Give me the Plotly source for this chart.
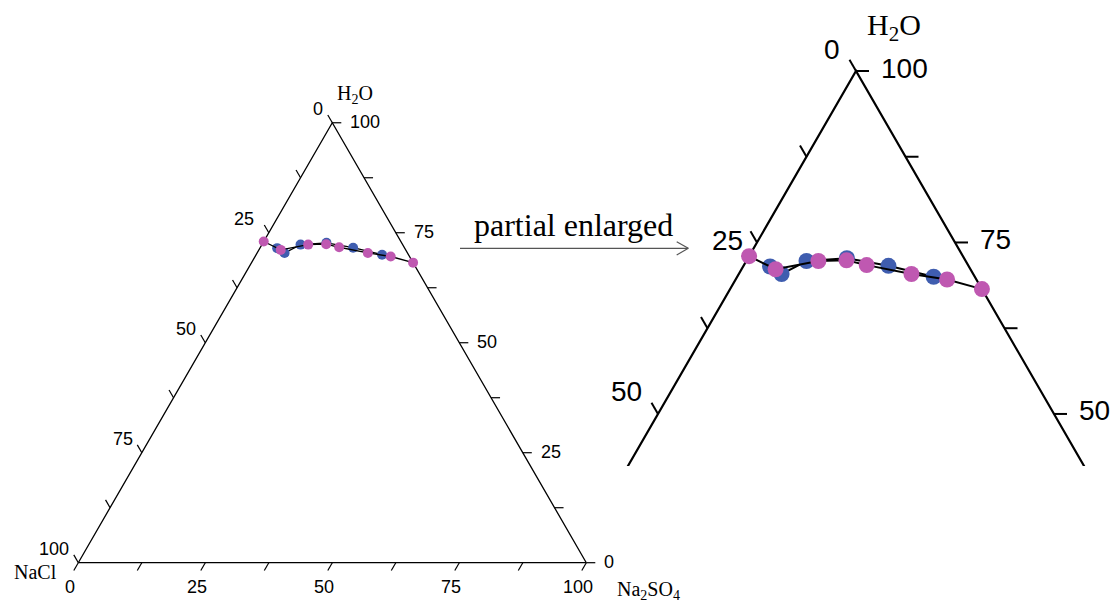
import math
import plotly.graph_objects as go

# ---------------- data (mass %) ----------------
# blue series
H2O_BLUE = [71.5, 70.4, 72.3, 72.7, 71.6, 70.0]
NACL_BLUE = [25.1, 24.2, 20.1, 14.8, 10.1, 5.2]
NA2SO4_BLUE = [3.4, 5.4, 7.6, 12.5, 18.3, 24.8]
# magenta series
H2O_PINK = [73.0, 71.1, 72.3, 72.4, 71.7, 70.4, 69.6, 68.2]
NACL_PINK = [27.0, 24.6, 18.6, 15.0, 12.8, 7.8, 3.7, 0.0]
NA2SO4_PINK = [0.0, 4.3, 9.1, 12.6, 15.5, 21.8, 26.7, 31.8]

TICK_VALUES = [0, 12.5, 25, 37.5, 50, 62.5, 75, 87.5, 100]
LABEL_VALUES = [0, 25, 50, 75, 100]
VERTEX_LABELS = {"top": "H<sub>2</sub>O", "left": "NaCl", "right": "Na<sub>2</sub>SO<sub>4</sub>"}
ARROW_TEXT = "partial enlarged"

# ---------------- styles / layout ----------------
W, H = 1114, 604
BLUE = "#3F5DAF"
PINK = "#BF58B1"
SQ3 = math.sqrt(3.0)

PANELS = {
    "left": dict(xaxis="x", yaxis="y", scale=508.0, xdom=[0.0, 700 / W], ydom=[0.0, 1.0],
                 xr=[-78.3 / 508, (700 - 78.3) / 508], yr=[(562.7 - 604) / 508, 562.7 / 508],
                 edge_w=1.3, tick_len=9, tick_w=1.2, msize=10, line_w=1.3,
                 font=18, vfont=20),
    "right": dict(xaxis="x2", yaxis="y2", scale=792.0, xdom=[600 / W, 1.0], ydom=[138 / 604, 1.0],
                  xr=[0.5 - 256 / 792, 0.5 + 258 / 792],
                  yr=[SQ3 / 2 - 395 / 792, SQ3 / 2 + 71 / 792],
                  edge_w=2.2, tick_len=13, tick_w=2.0, msize=16, line_w=2.0,
                  font=28, vfont=30),
}
# per-label nudges (px) where the reference places a label differently
LABEL_NUDGE = {("right", "left", 25): (2, -20), ("left", "left", 25): (-6, 0)}


def to_xy(h2o, nacl, na2so4):
    tot = h2o + nacl + na2so4
    return (na2so4 + h2o / 2.0) / tot, (h2o * SQ3 / 2.0) / tot


def series_xy(hs, ns, ss):
    pts = [to_xy(h, n, s) for h, n, s in zip(hs, ns, ss)]
    return [p[0] for p in pts], [p[1] for p in pts]


fig = go.Figure()
annotations = []

for name, P in PANELS.items():
    xa, ya, sc = P["xaxis"], P["yaxis"], P["scale"]
    # triangle edges
    verts = [to_xy(0, 100, 0), to_xy(0, 0, 100), to_xy(100, 0, 0), to_xy(0, 100, 0)]
    fig.add_trace(go.Scatter(x=[v[0] for v in verts], y=[v[1] for v in verts], mode="lines",
                             line=dict(color="black", width=P["edge_w"]), xaxis=xa, yaxis=ya,
                             hoverinfo="skip"))
    # ticks
    L = P["tick_len"] / sc
    tx, ty = [], []
    axes_def = [
        (lambda v: to_xy(0, 100 - v, v), (-0.5, -SQ3 / 2)),   # Na2SO4 bottom
        (lambda v: to_xy(v, 0, 100 - v), (1.0, 0.0)),         # H2O right
        (lambda v: to_xy(100 - v, v, 0), (-0.5, SQ3 / 2)),    # NaCl left
    ]
    for comp, d in axes_def:
        for v in TICK_VALUES:
            x0, y0 = comp(v)
            tx += [x0, x0 + d[0] * L, None]
            ty += [y0, y0 + d[1] * L, None]
    fig.add_trace(go.Scatter(x=tx, y=ty, mode="lines", line=dict(color="black", width=P["tick_w"]),
                             xaxis=xa, yaxis=ya, hoverinfo="skip"))
    # data
    for hs, ns, ss, col in [(H2O_BLUE, NACL_BLUE, NA2SO4_BLUE, BLUE),
                            (H2O_PINK, NACL_PINK, NA2SO4_PINK, PINK)]:
        sx, sy = series_xy(hs, ns, ss)
        fig.add_trace(go.Scatter(x=sx, y=sy, mode="lines+markers",
                                 line=dict(color="black", width=P["line_w"]),
                                 marker=dict(color=col, size=P["msize"], line=dict(width=0)),
                                 xaxis=xa, yaxis=ya))

    # tick labels
    f = P["font"]
    big = name == "right"
    label_specs = [
        ("bottom", lambda v: to_xy(0, 100 - v, v), "center", (-8, -24)),
        ("right", lambda v: to_xy(v, 0, 100 - v), "left", (23, 3) if big else (16, 1)),
        ("left", lambda v: to_xy(100 - v, v, 0), "right", (-14, 22) if big else (-7, 14)),
    ]
    for side, comp, anc, (dx, dy) in label_specs:
        for v in LABEL_VALUES:
            x0, y0 = comp(v)
            if not (P["xr"][0] <= x0 <= P["xr"][1] and P["yr"][0] <= y0 <= P["yr"][1]):
                continue
            ndx, ndy = LABEL_NUDGE.get((name, side, v), (0, 0))
            annotations.append(dict(x=x0, y=y0, xref=xa, yref=ya, text=str(v), showarrow=False,
                                    xanchor=anc, yanchor="middle", xshift=dx + ndx, yshift=dy + ndy,
                                    font=dict(family="Liberation Sans, Arial", size=f, color="black")))
    # vertex labels
    vf = dict(family="Liberation Serif, Times New Roman", size=P["vfont"], color="black")
    tx0, ty0 = to_xy(100, 0, 0)
    annotations.append(dict(x=tx0, y=ty0, xref=xa, yref=ya, text=VERTEX_LABELS["top"],
                            showarrow=False, xanchor="center", yanchor="middle",
                            xshift=38 if big else 23, yshift=44 if big else 28, font=vf))
    if not big:
        lx0, ly0 = to_xy(0, 100, 0)
        annotations.append(dict(x=lx0, y=ly0, xref=xa, yref=ya, text=VERTEX_LABELS["left"],
                                showarrow=False, xanchor="center", yanchor="middle",
                                xshift=-43, yshift=-9, font=vf))
        rx0, ry0 = to_xy(0, 0, 100)
        annotations.append(dict(x=rx0, y=ry0, xref=xa, yref=ya, text=VERTEX_LABELS["right"],
                                showarrow=False, xanchor="center", yanchor="middle",
                                xshift=62, yshift=-28, font=vf))


# arrow with caption (paper coordinates)
def px(xp):
    return xp / W


def py(yp):
    return 1 - yp / H


annotations.append(dict(x=px(573), y=py(225), xref="paper", yref="paper", text=ARROW_TEXT,
                        showarrow=False, xanchor="center", yanchor="middle",
                        font=dict(family="Liberation Serif, Times New Roman", size=32, color="black")))
arrow_col = "#555555"
shapes = [
    dict(type="line", xref="paper", yref="paper", x0=px(460), y0=py(248.3), x1=px(688.3), y1=py(248.3),
         line=dict(color=arrow_col, width=1.2)),
    dict(type="line", xref="paper", yref="paper", x0=px(676.7), y0=py(241.7), x1=px(688.3), y1=py(248.3),
         line=dict(color=arrow_col, width=1.2)),
    dict(type="line", xref="paper", yref="paper", x0=px(676.7), y0=py(254.9), x1=px(688.3), y1=py(248.3),
         line=dict(color=arrow_col, width=1.2)),
]

axis_common = dict(visible=False, showgrid=False, zeroline=False, fixedrange=True)
fig.update_layout(
    width=W, height=H, margin=dict(l=0, r=0, t=0, b=0),
    paper_bgcolor="white", plot_bgcolor="rgba(0,0,0,0)", showlegend=False,
    xaxis=dict(domain=PANELS["left"]["xdom"], range=PANELS["left"]["xr"], **axis_common),
    yaxis=dict(domain=PANELS["left"]["ydom"], range=PANELS["left"]["yr"], **axis_common),
    xaxis2=dict(domain=PANELS["right"]["xdom"], range=PANELS["right"]["xr"], **axis_common),
    yaxis2=dict(domain=PANELS["right"]["ydom"], range=PANELS["right"]["yr"], **axis_common),
    annotations=annotations, shapes=shapes,
)

fig.write_html("out.html", config={"displayModeBar": False},
               post_script="document.body.style.margin='0px';document.body.style.overflow='hidden';")
